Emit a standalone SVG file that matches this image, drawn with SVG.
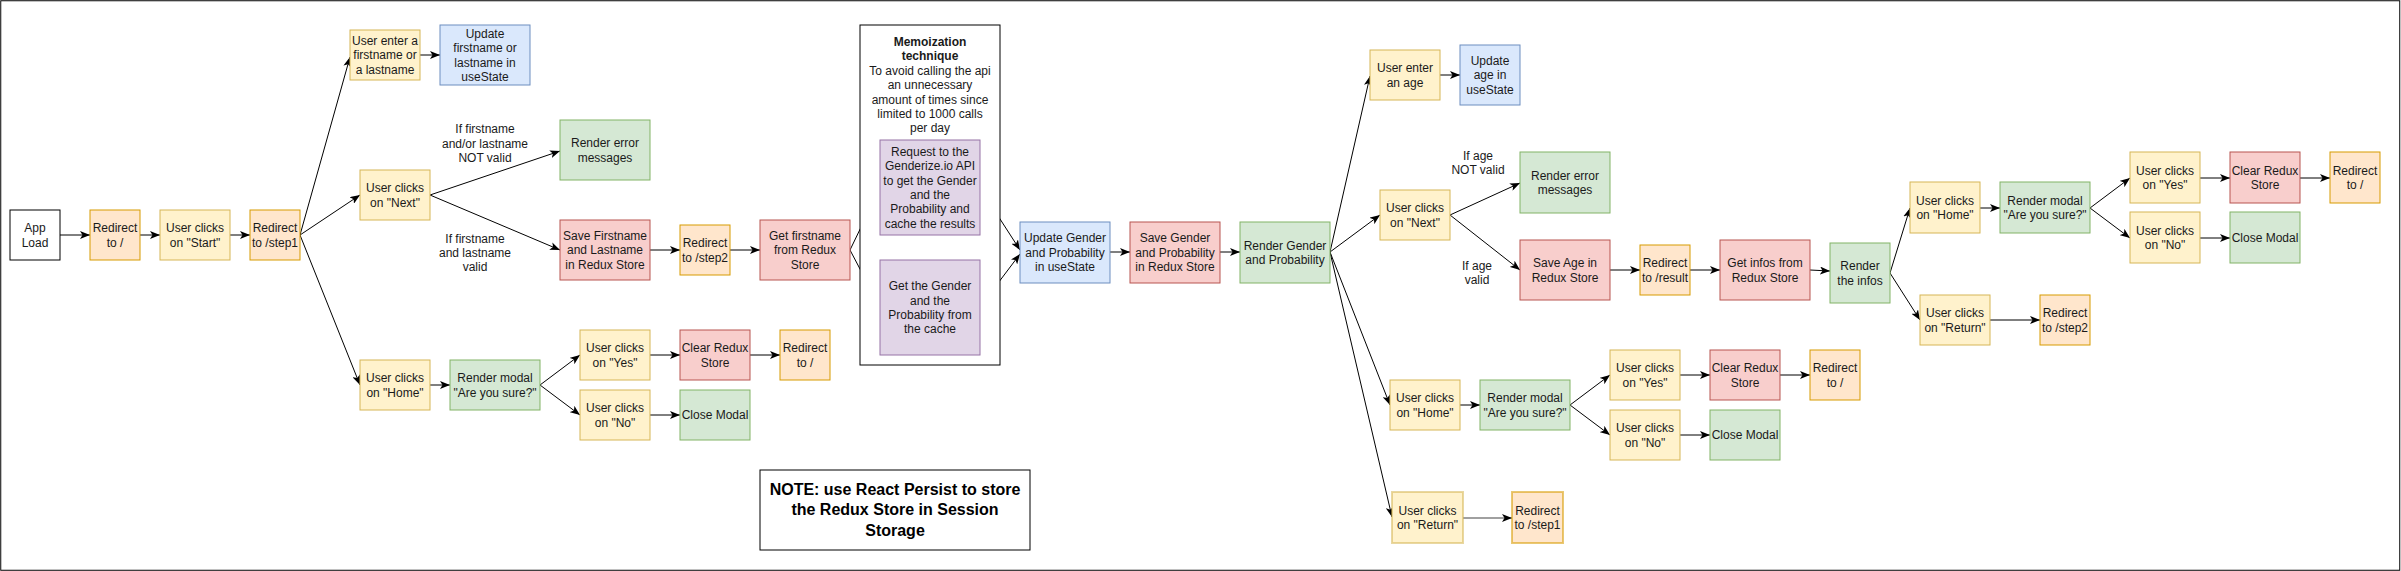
<svg xmlns="http://www.w3.org/2000/svg" width="2401" height="571" viewBox="0 0 2401 571">
<style>
rect{stroke-width:1}
.w{fill:#ffffff;stroke:#000000}
.y{fill:#fff2cc;stroke:#d6b656}
.o{fill:#ffe6cc;stroke:#d79b00}
.r{fill:#f8cecc;stroke:#b85450}
.g{fill:#d5e8d4;stroke:#82b366}
.b{fill:#dae8fc;stroke:#6c8ebf}
.p{fill:#e1d5e7;stroke:#9673a6}
.faint{stroke-width:2;stroke-opacity:0.55}
text{font-family:"Liberation Sans",Arial,Helvetica,sans-serif;font-size:12px;text-anchor:middle;fill:#1a1a1a}
.bold{font-weight:bold}
.note{font-size:16px;font-weight:bold;fill:#000}
#edges path{fill:none;stroke:#000;stroke-width:1}
#edges path.gray{stroke:#808080;stroke-width:1.5}
</style>
<defs>
<marker id="arr" markerUnits="userSpaceOnUse" markerWidth="10" markerHeight="8" refX="10" refY="4" orient="auto">
<path d="M0,0 L10,4 L0,8 L2.5,4 Z" fill="#000"/>
</marker>
</defs>
<rect x="0.75" y="0.75" width="2399" height="569.5" fill="#ffffff" stroke="#000" stroke-width="1.5"/>

<g id="edges" marker-end="url(#arr)">
<path d="M60,235 L90,235" marker-end="url(#arr)"/>
<path d="M140,235 L160,235" marker-end="url(#arr)"/>
<path d="M230,235 L250,235" marker-end="url(#arr)"/>
<path d="M300,235 L350,57" marker-end="url(#arr)"/>
<path d="M300,235 L360,195" marker-end="url(#arr)"/>
<path d="M300,235 L360,385" marker-end="url(#arr)"/>
<path d="M420,55 L440,55" marker-end="url(#arr)"/>
<path d="M430,195 L560,151" marker-end="url(#arr)"/>
<path d="M430,195 L560,250" marker-end="url(#arr)"/>
<path d="M650,250 L680,250" marker-end="url(#arr)"/>
<path d="M730,250 L760,250" marker-end="url(#arr)"/>
<path d="M850,250 L880,188" marker-end="url(#arr)"/>
<path d="M850,250 L880,307" marker-end="url(#arr)"/>
<path d="M980,188 L1020,250" marker-end="url(#arr)"/>
<path d="M980,307 L1020,254" marker-end="url(#arr)"/>
<path d="M1110,252 L1130,252" marker-end="url(#arr)"/>
<path d="M1220,252 L1240,252" marker-end="url(#arr)"/>
<path d="M1330,252 L1370,76" marker-end="url(#arr)"/>
<path d="M1330,252 L1380,215" marker-end="url(#arr)"/>
<path d="M1330,252 L1390,405" marker-end="url(#arr)"/>
<path d="M1330,252 L1392,517" marker-end="url(#arr)"/>
<path d="M1440,75 L1460,75" marker-end="url(#arr)"/>
<path d="M1450,215 L1520,183" marker-end="url(#arr)"/>
<path d="M1450,215 L1520,270" marker-end="url(#arr)"/>
<path d="M1610,270 L1640,270" marker-end="url(#arr)"/>
<path d="M1690,270 L1720,270" marker-end="url(#arr)"/>
<path d="M1810,270 L1830,271" marker-end="url(#arr)"/>
<path d="M1890,273 L1910,208" marker-end="url(#arr)"/>
<path d="M1890,273 L1920,320" marker-end="url(#arr)"/>
<path d="M1980,208 L2000,208" marker-end="url(#arr)"/>
<path d="M2090,208 L2130,178" marker-end="url(#arr)"/>
<path d="M2090,208 L2130,238" marker-end="url(#arr)"/>
<path d="M2200,178 L2230,178" marker-end="url(#arr)"/>
<path d="M2300,178 L2330,178" marker-end="url(#arr)"/>
<path d="M2200,238 L2230,238" marker-end="url(#arr)"/>
<path d="M1990,320 L2040,320" marker-end="url(#arr)"/>
<path d="M430,385 L450,385" marker-end="url(#arr)"/>
<path d="M540,385 L580,355" marker-end="url(#arr)"/>
<path d="M540,385 L580,415" marker-end="url(#arr)"/>
<path d="M650,355 L680,355" marker-end="url(#arr)"/>
<path d="M650,415 L680,415" marker-end="url(#arr)"/>
<path d="M750,355 L780,355" marker-end="url(#arr)"/>
<path d="M1460,405 L1480,405" marker-end="url(#arr)"/>
<path d="M1570,405 L1610,375" marker-end="url(#arr)"/>
<path d="M1570,405 L1610,435" marker-end="url(#arr)"/>
<path d="M1680,375 L1710,375" marker-end="url(#arr)"/>
<path d="M1680,435 L1710,435" marker-end="url(#arr)"/>
<path d="M1780,375 L1810,375" marker-end="url(#arr)"/>
<path class="gray" d="M1463,518 L1512,518" marker-end="url(#arr)"/>
</g>

<g id="edge-labels">
<text x="485" y="133.3">If firstname<tspan x="485" dy="14.2">and/or lastname</tspan><tspan x="485" dy="14.2">NOT valid</tspan></text>
<text x="475" y="243">If firstname<tspan x="475" dy="14.2">and lastname</tspan><tspan x="475" dy="14.2">valid</tspan></text>
<text x="1478" y="160">If age<tspan x="1478" dy="14.4">NOT valid</tspan></text>
<text x="1477" y="270">If age<tspan x="1477" dy="14.4">valid</tspan></text>
</g>

<g id="appLoad"><rect class="w" x="10" y="210" width="50" height="50"/><text x="35" y="232.1">App<tspan x="35" dy="14.4">Load</tspan></text></g>
<g id="redirectRoot1"><rect class="o" x="90" y="210" width="50" height="50"/><text x="115" y="232.1">Redirect<tspan x="115" dy="14.4">to /</tspan></text></g>
<g id="clickStart"><rect class="y" x="160" y="210" width="70" height="50"/><text x="195" y="232.1">User clicks<tspan x="195" dy="14.4">on "Start"</tspan></text></g>
<g id="redirectStep1"><rect class="o" x="250" y="210" width="50" height="50"/><text x="275" y="232.1">Redirect<tspan x="275" dy="14.4">to /step1</tspan></text></g>
<g id="enterName"><rect class="y" x="350" y="30" width="70" height="50"/><text x="385" y="44.9">User enter a<tspan x="385" dy="14.4">firstname or</tspan><tspan x="385" dy="14.4">a lastname</tspan></text></g>
<g id="updateName"><rect class="b" x="440" y="25" width="90" height="60"/><text x="485" y="37.7">Update<tspan x="485" dy="14.4">firstname or</tspan><tspan x="485" dy="14.4">lastname in</tspan><tspan x="485" dy="14.4">useState</tspan></text></g>
<g id="clickNext1"><rect class="y" x="360" y="170" width="70" height="50"/><text x="395" y="192.1">User clicks<tspan x="395" dy="14.4">on "Next"</tspan></text></g>
<g id="errors1"><rect class="g" x="560" y="120" width="90" height="60"/><text x="605" y="147.1">Render error<tspan x="605" dy="14.4">messages</tspan></text></g>
<g id="saveName"><rect class="r" x="560" y="220" width="90" height="60"/><text x="605" y="239.9">Save Firstname<tspan x="605" dy="14.4">and Lastname</tspan><tspan x="605" dy="14.4">in Redux Store</tspan></text></g>
<g id="redirectStep2"><rect class="o" x="680" y="225" width="50" height="50"/><text x="705" y="247.1">Redirect<tspan x="705" dy="14.4">to /step2</tspan></text></g>
<g id="getFirstname"><rect class="r" x="760" y="220" width="90" height="60"/><text x="805" y="239.9">Get firstname<tspan x="805" dy="14.4">from Redux</tspan><tspan x="805" dy="14.4">Store</tspan></text></g>
<g id="clickHome1"><rect class="y" x="360" y="360" width="70" height="50"/><text x="395" y="382.1">User clicks<tspan x="395" dy="14.4">on "Home"</tspan></text></g>
<g id="modal1"><rect class="g" x="450" y="360" width="90" height="50"/><text x="495" y="382.1">Render modal<tspan x="495" dy="14.4">"Are you sure?"</tspan></text></g>
<g id="clickYes1"><rect class="y" x="580" y="330" width="70" height="50"/><text x="615" y="352.1">User clicks<tspan x="615" dy="14.4">on "Yes"</tspan></text></g>
<g id="clearStore1"><rect class="r" x="680" y="330" width="70" height="50"/><text x="715" y="352.1">Clear Redux<tspan x="715" dy="14.4">Store</tspan></text></g>
<g id="redirectRoot2"><rect class="o" x="780" y="330" width="50" height="50"/><text x="805" y="352.1">Redirect<tspan x="805" dy="14.4">to /</tspan></text></g>
<g id="clickNo1"><rect class="y" x="580" y="390" width="70" height="50"/><text x="615" y="412.1">User clicks<tspan x="615" dy="14.4">on "No"</tspan></text></g>
<g id="closeModal1"><rect class="g" x="680" y="390" width="70" height="50"/><text x="715" y="419.3">Close Modal</text></g>

<g id="memoization"><rect class="w" x="860" y="25" width="140" height="340"/><text x="930" y="46" class="bold">Memoization<tspan x="930" dy="14.4">technique</tspan><tspan x="930" dy="14.4" font-weight="normal">To avoid calling the api</tspan><tspan x="930" dy="14.4" font-weight="normal">an unnecessary</tspan><tspan x="930" dy="14.4" font-weight="normal">amount of times since</tspan><tspan x="930" dy="14.4" font-weight="normal">limited to 1000 calls</tspan><tspan x="930" dy="14.4" font-weight="normal">per day</tspan></text></g>
<g id="requestApi"><rect class="p" x="880" y="140" width="100" height="95"/><text x="930" y="155.8">Request to the<tspan x="930" dy="14.4">Genderize.io API</tspan><tspan x="930" dy="14.4">to get the Gender</tspan><tspan x="930" dy="14.4">and the</tspan><tspan x="930" dy="14.4">Probability and</tspan><tspan x="930" dy="14.4">cache the results</tspan></text></g>
<g id="fromCache"><rect class="p" x="880" y="260" width="100" height="95"/><text x="930" y="290.2">Get the Gender<tspan x="930" dy="14.4">and the</tspan><tspan x="930" dy="14.4">Probability from</tspan><tspan x="930" dy="14.4">the cache</tspan></text></g>
<g id="updateGender"><rect class="b" x="1020" y="222" width="90" height="61"/><text x="1065" y="242.4">Update Gender<tspan x="1065" dy="14.4">and Probability</tspan><tspan x="1065" dy="14.4">in useState</tspan></text></g>
<g id="saveGender"><rect class="r" x="1130" y="222" width="90" height="61"/><text x="1175" y="242.4">Save Gender<tspan x="1175" dy="14.4">and Probability</tspan><tspan x="1175" dy="14.4">in Redux Store</tspan></text></g>
<g id="renderGender"><rect class="g" x="1240" y="222" width="90" height="61"/><text x="1285" y="249.6">Render Gender<tspan x="1285" dy="14.4">and Probability</tspan></text></g>

<g id="enterAge"><rect class="y" x="1370" y="50" width="70" height="50"/><text x="1405" y="72.1">User enter<tspan x="1405" dy="14.4">an age</tspan></text></g>
<g id="updateAge"><rect class="b" x="1460" y="45" width="60" height="60"/><text x="1490" y="64.9">Update<tspan x="1490" dy="14.4">age in</tspan><tspan x="1490" dy="14.4">useState</tspan></text></g>
<g id="clickNext2"><rect class="y" x="1380" y="190" width="70" height="50"/><text x="1415" y="212.1">User clicks<tspan x="1415" dy="14.4">on "Next"</tspan></text></g>
<g id="errors2"><rect class="g" x="1520" y="152" width="90" height="61"/><text x="1565" y="179.6">Render error<tspan x="1565" dy="14.4">messages</tspan></text></g>
<g id="saveAge"><rect class="r" x="1520" y="240" width="90" height="60"/><text x="1565" y="267.1">Save Age in<tspan x="1565" dy="14.4">Redux Store</tspan></text></g>
<g id="redirectResult"><rect class="o" x="1640" y="245" width="50" height="50"/><text x="1665" y="267.1">Redirect<tspan x="1665" dy="14.4">to /result</tspan></text></g>
<g id="getInfos"><rect class="r" x="1720" y="240" width="90" height="60"/><text x="1765" y="267.1">Get infos from<tspan x="1765" dy="14.4">Redux Store</tspan></text></g>
<g id="renderInfos"><rect class="g" x="1830" y="243" width="60" height="60"/><text x="1860" y="270.1">Render<tspan x="1860" dy="14.4">the infos</tspan></text></g>
<g id="clickHome3"><rect class="y" x="1910" y="182" width="70" height="51"/><text x="1945" y="204.6">User clicks<tspan x="1945" dy="14.4">on "Home"</tspan></text></g>
<g id="modal3"><rect class="g" x="2000" y="182" width="90" height="51"/><text x="2045" y="204.6">Render modal<tspan x="2045" dy="14.4">"Are you sure?"</tspan></text></g>
<g id="clickYes3"><rect class="y" x="2130" y="152" width="70" height="51"/><text x="2165" y="174.6">User clicks<tspan x="2165" dy="14.4">on "Yes"</tspan></text></g>
<g id="clearStore3"><rect class="r" x="2230" y="152" width="70" height="51"/><text x="2265" y="174.6">Clear Redux<tspan x="2265" dy="14.4">Store</tspan></text></g>
<g id="redirectRoot3"><rect class="o" x="2330" y="152" width="50" height="51"/><text x="2355" y="174.6">Redirect<tspan x="2355" dy="14.4">to /</tspan></text></g>
<g id="clickNo3"><rect class="y" x="2130" y="212" width="70" height="51"/><text x="2165" y="234.6">User clicks<tspan x="2165" dy="14.4">on "No"</tspan></text></g>
<g id="closeModal3"><rect class="g" x="2230" y="212" width="70" height="51"/><text x="2265" y="241.8">Close Modal</text></g>
<g id="clickReturn3"><rect class="y" x="1920" y="295" width="70" height="50"/><text x="1955" y="317.1">User clicks<tspan x="1955" dy="14.4">on "Return"</tspan></text></g>
<g id="redirectStep2b"><rect class="o" x="2040" y="295" width="50" height="50"/><text x="2065" y="317.1">Redirect<tspan x="2065" dy="14.4">to /step2</tspan></text></g>

<g id="clickHome2"><rect class="y" x="1390" y="380" width="70" height="50"/><text x="1425" y="402.1">User clicks<tspan x="1425" dy="14.4">on "Home"</tspan></text></g>
<g id="modal2"><rect class="g" x="1480" y="380" width="90" height="50"/><text x="1525" y="402.1">Render modal<tspan x="1525" dy="14.4">"Are you sure?"</tspan></text></g>
<g id="clickYes2"><rect class="y" x="1610" y="350" width="70" height="50"/><text x="1645" y="372.1">User clicks<tspan x="1645" dy="14.4">on "Yes"</tspan></text></g>
<g id="clearStore2"><rect class="r" x="1710" y="350" width="70" height="50"/><text x="1745" y="372.1">Clear Redux<tspan x="1745" dy="14.4">Store</tspan></text></g>
<g id="redirectRoot4"><rect class="o" x="1810" y="350" width="50" height="50"/><text x="1835" y="372.1">Redirect<tspan x="1835" dy="14.4">to /</tspan></text></g>
<g id="clickNo2"><rect class="y" x="1610" y="410" width="70" height="50"/><text x="1645" y="432.1">User clicks<tspan x="1645" dy="14.4">on "No"</tspan></text></g>
<g id="closeModal2"><rect class="g" x="1710" y="410" width="70" height="50"/><text x="1745" y="439.3">Close Modal</text></g>
<g id="clickReturn2"><rect class="y faint" x="1392" y="492" width="71" height="51"/><text x="1427.5" y="514.6">User clicks<tspan x="1427.5" dy="14.4">on "Return"</tspan></text></g>
<g id="redirectStep1b"><rect class="o faint" x="1512" y="492" width="51" height="51"/><text x="1537.5" y="514.6">Redirect<tspan x="1537.5" dy="14.4">to /step1</tspan></text></g>

<g id="note"><rect class="w" x="760" y="470" width="270" height="80"/><text class="note" x="895" y="494.7">NOTE: use React Persist to store<tspan x="895" dy="20.5">the Redux Store in Session</tspan><tspan x="895" dy="20.5">Storage</tspan></text></g>
</svg>
